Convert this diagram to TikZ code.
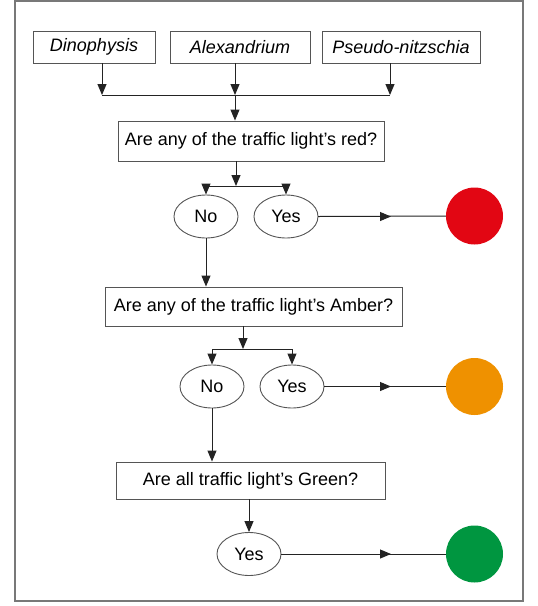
\documentclass[tikz,border=0pt]{standalone}
\usepackage{fontspec}
\setmainfont{Liberation Sans}
\usetikzlibrary{arrows.meta,shapes.geometric,calc}
\definecolor{tlred}{RGB}{226,6,19}
\definecolor{tlamber}{RGB}{239,145,0}
\definecolor{tlgreen}{RGB}{0,150,64}
\definecolor{boxline}{RGB}{85,85,85}
\definecolor{conline}{RGB}{35,35,35}
\definecolor{frameline}{RGB}{120,120,120}
\begin{document}
\begin{tikzpicture}[x=1pt,y=-1pt,
  box/.style={draw=boxline,line width=0.9pt,inner sep=0pt,font=\fontsize{18}{21}\selectfont},
  oval/.style={ellipse,draw=boxline,line width=0.9pt,minimum width=64pt,minimum height=43pt,inner sep=0pt,font=\fontsize{18}{21}\selectfont},
  light/.style={circle,minimum size=57pt,inner sep=0pt},
  con/.style={draw=conline,line width=1pt},
  arr/.style={con,-{Triangle[length=11pt,width=9pt]}}]
\useasboundingbox (0,0) rectangle (538,606);
\draw[frameline,line width=1.5pt] (15,1) rectangle (523,601);
% top boxes
\node[box,minimum width=122pt,minimum height=32pt] (dino) at (94,47) {\itshape Dinophysis};
\node[box,minimum width=140pt,minimum height=32pt] (alex) at (240,47) {\itshape Alexandrium};
\node[box,minimum width=158pt,minimum height=32pt] (pseudo) at (401,47) {\itshape Pseudo-nitzschia};
\coordinate (j1) at (102,95);
\coordinate (j2) at (235,95);
\coordinate (j3) at (390,95);
\draw[arr] (dino.south -| j1) -- (j1);
\draw[arr] (alex.south -| j2) -- (j2);
\draw[arr] (pseudo.south -| j3) -- (j3);
\draw[con] (j1) -- (j3);
% red question
\node[box,minimum width=266pt,minimum height=40pt] (q1) at (251,141) {Are any of the traffic light’s red?};
\draw[arr] (j2) -- (q1.north -| j2);
\coordinate (s1) at (236,186);
\draw[arr] (q1.south -| s1) -- (s1);
\node[oval] (no1) at (206,216.5) {No};
\node[oval] (yes1) at (286,216.5) {Yes};
\draw[con] (no1.north |- s1) -- (yes1.north |- s1);
\draw[arr] (no1.north |- s1) -- (no1.north);
\draw[arr] (yes1.north |- s1) -- (yes1.north);
\node[light,fill=tlred] (red) at (474.5,216) {};
\coordinate (tip) at (391,0);
\draw[con] (yes1.east) -- (red.west);
\draw[arr] (yes1.east) -- (yes1.east -| tip);
% amber question
\node[box,minimum width=297pt,minimum height=39pt] (q2) at (253.5,306.5) {Are any of the traffic light’s Amber?};
\draw[arr] (no1.south) -- (q2.north -| no1.south);
\coordinate (s2) at (243,349);
\draw[arr] (q2.south -| s2) -- (s2);
\node[oval] (no2) at (212,386.5) {No};
\node[oval] (yes2) at (292,386.5) {Yes};
\draw[con] (no2.north |- s2) -- (yes2.north |- s2);
\draw[arr] (no2.north |- s2) -- (no2.north);
\draw[arr] (yes2.north |- s2) -- (yes2.north);
\node[light,fill=tlamber] (amber) at (474.5,386.5) {};
\draw[con] (yes2.east) -- (amber.west);
\draw[arr] (yes2.east) -- (yes2.east -| tip);
% green question
\node[box,minimum width=269pt,minimum height=37pt] (q3) at (250.5,480.5) {Are all traffic light’s Green?};
\draw[arr] (no2.south) -- (q3.north -| no2.south);
\node[oval] (yes3) at (249,554) {Yes};
\draw[arr] (q3.south -| yes3.north) -- (yes3.north);
\node[light,fill=tlgreen] (green) at (474.5,554) {};
\draw[con] (yes3.east) -- (green.west);
\draw[arr] (yes3.east) -- (yes3.east -| tip);
\end{tikzpicture}
\end{document}
